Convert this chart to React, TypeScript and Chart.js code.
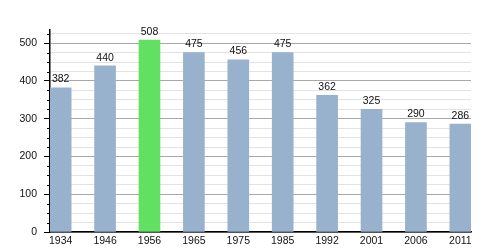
import React, { useEffect, useRef } from "react";
import { Chart, registerables } from "chart.js";

Chart.register(...registerables);

const years: string[] = ["1934", "1946", "1956", "1965", "1975", "1985", "1992", "2001", "2006", "2011"];
const population: number[] = [382, 440, 508, 475, 456, 475, 362, 325, 290, 286];
const highlightYear = "1956";

const FONT = "'Liberation Sans', Arial, sans-serif";

const minorTicksPlugin = {
  id: "minorTicks",
  afterDraw(chart: any) {
    const { ctx, scales } = chart;
    const y = scales.y;
    ctx.save();
    ctx.strokeStyle = "#000";
    ctx.lineWidth = 1;
    y.ticks.forEach((t: any) => {
      const v = t.value;
      if (v % 25 === 0 && v % 100 !== 0) {
        const py = Math.round(y.getPixelForValue(v)) + 0.5;
        ctx.beginPath();
        ctx.moveTo(y.right - 3, py);
        ctx.lineTo(y.right, py);
        ctx.stroke();
      }
    });
    ctx.restore();
  },
};

const valueLabelsPlugin = {
  id: "valueLabels",
  afterDatasetsDraw(chart: any) {
    const { ctx } = chart;
    const meta = chart.getDatasetMeta(0);
    ctx.save();
    ctx.font = `10.5px ${FONT}`;
    ctx.fillStyle = "#111";
    ctx.textAlign = "center";
    ctx.textBaseline = "bottom";
    meta.data.forEach((bar: any, i: number) => {
      ctx.fillText(String(population[i]), bar.x, bar.y - 3);
    });
    ctx.restore();
  },
};

export default function App() {
  const ref = useRef<HTMLCanvasElement | null>(null);

  useEffect(() => {
    if (!ref.current) return;
    const chart = new Chart(ref.current, {
      type: "bar",
      data: {
        datasets: [
          {
            data: population.map((v, i) => ({ x: i, y: v })),
            backgroundColor: years.map((y) => (y === highlightYear ? "#62e062" : "#98b1cc")),
            barThickness: 21,
            borderWidth: 0,
          },
        ],
      },
      options: {
        animation: false,
        responsive: false,
        maintainAspectRatio: false,
        layout: { padding: { top: 30, right: 29, left: 0, bottom: 0 } },
        plugins: { legend: { display: false }, tooltip: { enabled: false } },
        scales: {
          x: {
            type: "linear",
            offset: false,
            min: -0.24,
            max: 9.24,
            afterFit: (s: any) => {
              s.height = 18;
            },
            afterBuildTicks: (s: any) => {
              s.ticks = years.map((_, i) => ({ value: i }));
            },
            grid: { display: false, drawTicks: false, tickLength: 0, offset: false },
            border: { display: true, color: "#000", width: 1.5 },
            ticks: {
              autoSkip: false,
              maxRotation: 0,
              padding: 3,
              color: "#111",
              font: { family: FONT, size: 10.5 },
              callback: (v: any) => years[v] ?? "",
            },
          },
          y: {
            min: 0,
            max: 535,
            afterFit: (s: any) => {
              s.width = 50;
            },
            afterBuildTicks: (s: any) => {
              const t: any[] = [];
              for (let v = 0; v <= 525; v += 25) t.push({ value: v });
              s.ticks = t;
            },
            grid: {
              color: (c: any) => {
                const v = c.tick?.value;
                if (v === undefined) return "transparent";
                if (v % 100 === 0) return "#a8a8a8";
                return "#e3e3e3";
              },
              tickColor: (c: any) => (c.tick && c.tick.value % 100 === 0 ? "#000" : "transparent"),
              tickLength: 6,
              lineWidth: 1,
            },
            border: { display: true, color: "#000", width: 1.5 },
            ticks: {
              autoSkip: false,
              padding: 7,
              color: "#111",
              font: { family: FONT, size: 10.5 },
              callback: (v: any) => (v % 100 === 0 ? String(v) : ""),
            },
          },
        },
      },
      plugins: [minorTicksPlugin, valueLabelsPlugin],
    });
    return () => chart.destroy();
  }, []);

  return (
    <div style={{ position: "fixed", left: 0, top: 0, width: 500, height: 250, background: "#fff" }}>
      <canvas ref={ref} width={500} height={250} style={{ width: 500, height: 250, display: "block" }} />
    </div>
  );
}
